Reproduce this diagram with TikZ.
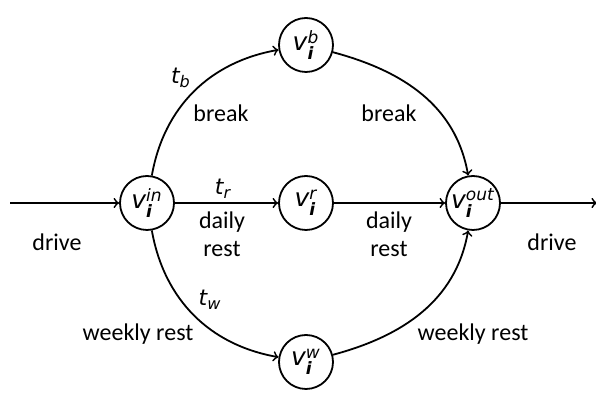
\documentclass[tikz,border=0pt]{standalone}
\usepackage{fontspec}
\setmainfont{Carlito}
\newfontfamily\mf{DejaVu Sans}
\usetikzlibrary{arrows}
\newcommand{\scr}[1]{\hbox{\fontsize{8.5}{9}\selectfont\mf\itshape #1}}
\newcommand{\vn}[1]{{\fontsize{12.5}{13}\selectfont\mf\itshape v}$_{\hbox{\fontsize{8.5}{9}\selectfont\mf\bfseries\itshape i}}^{\scr{#1}}$}
\newcommand{\tl}[1]{{\fontsize{11}{12}\selectfont\mf\itshape t}$_{\hbox{\fontsize{8}{9}\selectfont\mf\itshape #1}}$}
\begin{document}
\begin{tikzpicture}[x=0.5pt,y=-0.5pt,
  vnode/.style={draw,circle,line width=0.9pt,minimum size=27pt,inner sep=0pt},
  conn/.style={line width=0.9pt,->,>=to},
  lbl/.style={font=\fontsize{12}{13}\selectfont,align=center,inner sep=0pt}]
\useasboundingbox (0,0) rectangle (596,400);
\node[vnode] (in) at (147,203) {\vn{in}};
\node[vnode] (b) at (306,45) {\vn{b}};
\node[vnode] (r) at (306,203) {\vn{r}};
\node[vnode] (out) at (473,203) {\vn{out}};
\node[vnode] (w) at (306,362) {\vn{w}};
\coordinate (s) at (10,203);
\coordinate (e) at (597,203);
\draw[conn] (s) -- (in);
\draw[conn] (out) -- (e);
\draw[conn] (in) -- (r);
\draw[conn] (r) -- (out);
\draw[conn] (in) to[out=80,in=190] (b);
\draw[conn] (b) to[out=-15,in=100] (out);
\draw[conn] (in) to[out=-80,in=170] (w);
\draw[conn] (w) to[out=15,in=-100] (out);
\node[lbl] (tb) at (181,78) {\tl{b}};
\node[lbl] (tr) at (223,189) {\tl{r}};
\node[lbl] (tw) at (210,300) {\tl{w}};
\node[lbl] (l1) at (221,113) {break};
\node[lbl] (l2) at (389,113) {break};
\node[lbl] (l3) at (222,234) {daily\\[1pt]rest};
\node[lbl] (l4) at (389,234) {daily\\[1pt]rest};
\node[lbl] (l5) at (57,242) {drive};
\node[lbl] (l6) at (552,242) {drive};
\node[lbl] (l7) at (138,334) {weekly rest};
\node[lbl] (l8) at (473,334) {weekly rest};
\end{tikzpicture}
\end{document}
